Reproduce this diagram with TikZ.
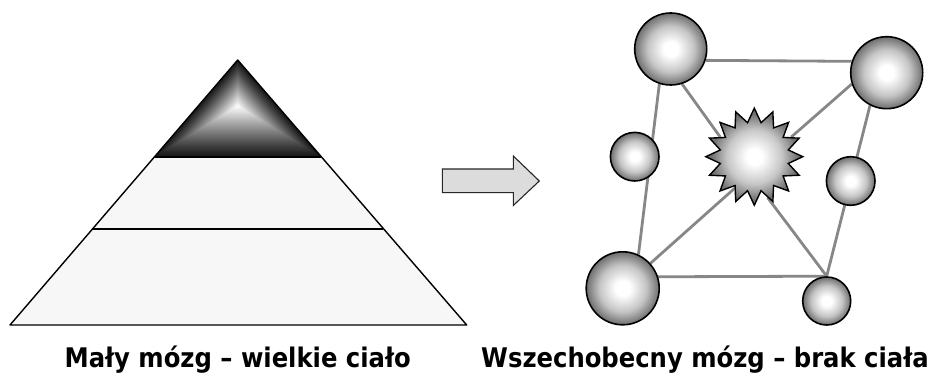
\documentclass[tikz,border=0pt]{standalone}
\usepackage{fontspec}
\setmainfont{DejaVu Sans Condensed}
\usetikzlibrary{calc,shapes.geometric,backgrounds}

\definecolor{topdark}{RGB}{25,25,25}
\definecolor{bandfill}{RGB}{247,247,247}
\definecolor{arrowfill}{RGB}{220,220,220}
\definecolor{linkgray}{RGB}{135,135,135}
\definecolor{ballgray}{RGB}{110,110,110}
\definecolor{stargray}{RGB}{115,115,115}

% the path edge sits at 25bp of the shading
\pgfdeclareradialshading{ballshade}{\pgfpointorigin}{color(0bp)=(white); color(5bp)=(white); color(16bp)=(ballgray!40!white); color(25bp)=(ballgray); color(50bp)=(ballgray)}
\pgfdeclareradialshading{starshade}{\pgfpointorigin}{color(0bp)=(white); color(4bp)=(white); color(14bp)=(stargray!40!white); color(22bp)=(stargray); color(50bp)=(stargray)}

\tikzset{
    ball/.style={circle, draw=black, line width=1.6pt, shading=ballshade, inner sep=0pt},
    link/.style={linkgray, line width=2.8pt},
    caption/.style={font=\bfseries\fontsize{27}{31}\selectfont, anchor=base}
}

\begin{document}
\begin{tikzpicture}[x=1pt, y=-1pt]
            \useasboundingbox (0,0) rectangle (934,379);

            % Pyramid
            \coordinate (apex) at (237.7,60);
            \coordinate (baseL) at (10,325);
            \coordinate (baseR) at (466.7,325);
            \coordinate (midL) at (154.6,156.7);
            \coordinate (midR) at (320.8,156.7);
            \coordinate (lowL) at (92.5,229);
            \coordinate (lowR) at (382.9,229);
            \coordinate (ctr) at (237.7,106);

            \fill[bandfill] (midL) -- (midR) -- (baseR) -- (baseL) -- cycle;
            \foreach \i in {0,...,60} {
                \pgfmathsetmacro{\s}{1-\i/60}
                \pgfmathsetmacro{\p}{min(100,100*(\i/60)^1.1)}
                \fill[white!\p!topdark] ($(ctr)!\s!(apex)$) -- ($(ctr)!\s!(midL)$) -- ($(ctr)!\s!(midR)$) -- cycle;
            }
            \draw[line width=1.4pt, line join=round] (apex) -- (baseL) -- (baseR) -- cycle;
            \draw[line width=2pt] (midL) -- (midR);
            \draw[line width=1.4pt] (lowL) -- (lowR);

            % Block arrow
            \draw[fill=arrowfill, draw=black!85, line width=1.1pt]
                (442.3,169) -- (513.3,169) -- (513.3,156) -- (539.3,181)
                -- (513.3,205.5) -- (513.3,192.7) -- (442.3,192.7) -- cycle;

            % Balls around the core
            \node[ball, minimum size=72pt] (tl) at (670.7,49) {};
            \node[ball, minimum size=72pt] (tr) at (886.7,72.7) {};
            \node[ball, minimum size=73pt] (bl) at (622.7,288.3) {};
            \node[ball, minimum size=48pt] (br) at (826.7,301) {};
            \node[ball, minimum size=48.6pt] (ml) at (634.7,156.7) {};
            \node[ball, minimum size=48.6pt] (mr) at (850.7,181) {};
            \node[star, star points=16, star point ratio=1.4, minimum size=97pt,
                  inner sep=0pt, draw=black, line width=1.4pt, shading=starshade] (core) at (754.3,156.7) {};

            % Links
            \begin{scope}[on background layer]
                \draw[link] (tl.-18.5) -- (tr.162);
                \draw[link] (tl.-108) -- (bl.65);
                \draw[link] (tr.-117.5) -- (br.north);
                \draw[link] (bl.18.5) -- (br.north);
                \draw[link] (tl.-72) -- (core.150);
                \draw[link] (tr.198.5) -- (core.28);
                \draw[link] (core.238) -- (bl.42.5);
                \draw[link] (core.-72) -- (br.north);
            \end{scope}

            % Captions
            \node[caption] (small) at (237.7,367) {Mały mózg – wielkie ciało};
            \node[caption] (everywhere) at (705,367) {Wszechobecny mózg – brak ciała};
\end{tikzpicture}
\end{document}
